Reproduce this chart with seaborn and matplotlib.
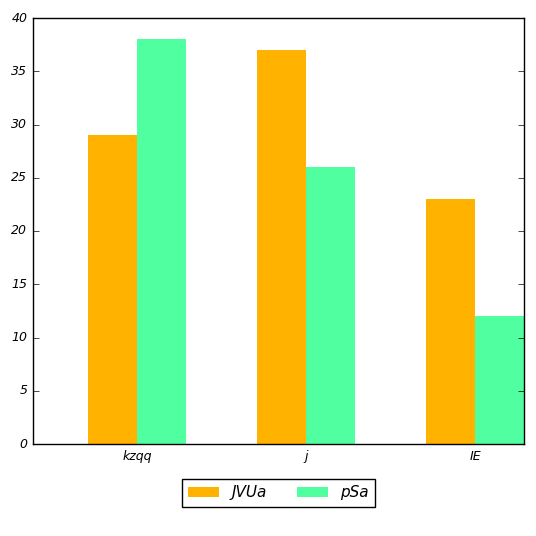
import pandas as pd
import seaborn as sns
import matplotlib.pyplot as plt

categories = ['kzqq', 'j', 'IE']
series_names = ['JVUa', 'pSa']
jvua_values = [29, 37, 23]
psa_values = [38, 26, 12]
colors = ['#FFB300', '#50FFA0']

df = pd.DataFrame({
    'cat': categories * 2,
    'series': [series_names[0]] * 3 + [series_names[1]] * 3,
    'value': jvua_values + psa_values,
})

plt.style.use('classic')
fig = plt.figure(figsize=(5.36, 5.36), dpi=100, facecolor='white')
ax = fig.add_axes([33 / 536, 92 / 536, 491 / 536, 426 / 536])
sns.barplot(data=df, x='cat', y='value', hue='series', palette=colors,
            width=0.58, saturation=1, edgecolor='none', ax=ax, legend=True)
ax.set_xlim(-0.615, 2.29)
ax.set_ylim(0, 40)
ax.set_xlabel('')
ax.set_ylabel('')
for lab in ax.get_xticklabels() + ax.get_yticklabels():
    lab.set_fontstyle('italic')
    lab.set_fontsize(9)
ax.tick_params(axis='x', top=False, bottom=False)
ax.legend(loc='upper center', bbox_to_anchor=(0.5, -0.065), ncol=2,
          prop={'style': 'italic', 'size': 11}, frameon=True, fancybox=False)
fig.savefig('out.png', dpi=100, facecolor='white')
